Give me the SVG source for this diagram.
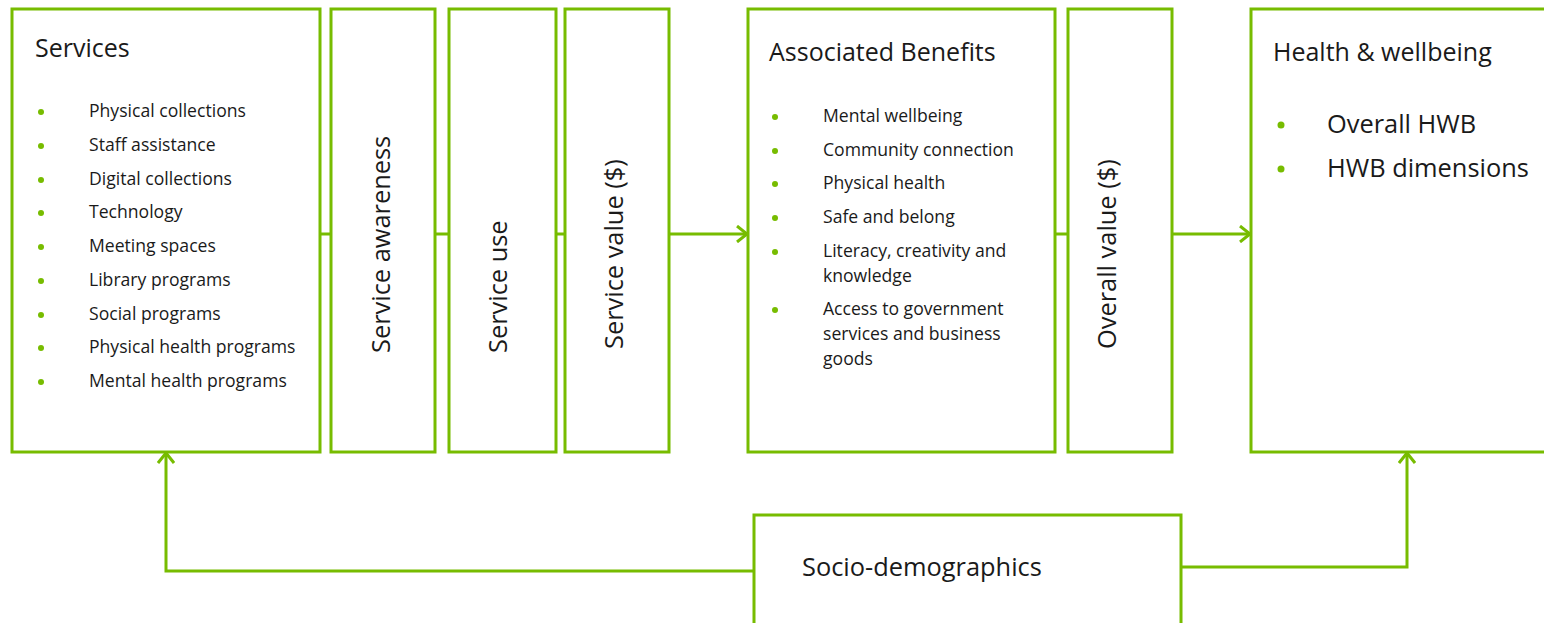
<svg xmlns="http://www.w3.org/2000/svg" width="1544" height="623" viewBox="0 0 1544 623">
<style>
.box{fill:#fff;stroke:#77BC00;stroke-width:3}
.ln{fill:none;stroke:#77BC00;stroke-width:3}
text{font-family:"Open Sans","Noto Sans","Liberation Sans",sans-serif;fill:#1a1a1a}
.t{font-size:25px}
.s{font-size:17.6px}
.m{font-size:25.4px}
.b{fill:#77BC00}
</style>
<defs>
<marker id="arr" markerWidth="14" markerHeight="18" refX="11" refY="9" orient="auto" markerUnits="userSpaceOnUse">
<path d="M1,1 L11,9 L1,17" fill="none" stroke="#77BC00" stroke-width="3"/>
</marker>
</defs>
<g id="connectors">
<line class="ln" x1="320" y1="234" x2="331" y2="234"/>
<line class="ln" x1="435" y1="234" x2="449" y2="234"/>
<line class="ln" x1="556" y1="234" x2="565" y2="234"/>
<line class="ln" x1="669" y1="234" x2="747" y2="234" marker-end="url(#arr)"/>
<line class="ln" x1="1055" y1="234" x2="1068" y2="234"/>
<line class="ln" x1="1172" y1="234" x2="1250" y2="234" marker-end="url(#arr)"/>
<polyline class="ln" points="754,571 166,571 166,453" marker-end="url(#arr)"/>
<polyline class="ln" points="1181,567 1407,567 1407,453" marker-end="url(#arr)"/>
</g>
<g id="services">
<rect class="box" x="12" y="9" width="308" height="443"/>
<text class="t" x="35" y="57">Services</text>
<g class="s">
<circle class="b" cx="41" cy="112" r="3"/><text x="89" y="117">Physical collections</text>
<circle class="b" cx="41" cy="146" r="3"/><text x="89" y="151">Staff assistance</text>
<circle class="b" cx="41" cy="180" r="3"/><text x="89" y="185">Digital collections</text>
<circle class="b" cx="41" cy="213" r="3"/><text x="89" y="218">Technology</text>
<circle class="b" cx="41" cy="247" r="3"/><text x="89" y="252">Meeting spaces</text>
<circle class="b" cx="41" cy="281" r="3"/><text x="89" y="286">Library programs</text>
<circle class="b" cx="41" cy="315" r="3"/><text x="89" y="320">Social programs</text>
<circle class="b" cx="41" cy="348" r="3"/><text x="89" y="353">Physical health programs</text>
<circle class="b" cx="41" cy="382" r="3"/><text x="89" y="387">Mental health programs</text>
</g>
</g>
<g id="awareness">
<rect class="box" x="331" y="9" width="104" height="443"/>
<text class="m" transform="translate(390,353) rotate(-90)">Service awareness</text>
</g>
<g id="use">
<rect class="box" x="449" y="9" width="107" height="443"/>
<text class="m" transform="translate(507,353) rotate(-90)">Service use</text>
</g>
<g id="value">
<rect class="box" x="565" y="9" width="104" height="443"/>
<text class="m" transform="translate(623,349) rotate(-90)">Service value ($)</text>
</g>
<g id="benefits">
<rect class="box" x="748" y="9" width="307" height="443"/>
<text class="t" x="769" y="61">Associated Benefits</text>
<g class="s">
<circle class="b" cx="775" cy="117" r="3"/><text x="823" y="122">Mental wellbeing</text>
<circle class="b" cx="775" cy="151" r="3"/><text x="823" y="156">Community connection</text>
<circle class="b" cx="775" cy="184" r="3"/><text x="823" y="189">Physical health</text>
<circle class="b" cx="775" cy="218" r="3"/><text x="823" y="223">Safe and belong</text>
<circle class="b" cx="775" cy="252" r="3"/><text x="823" y="257">Literacy, creativity and</text>
<text x="823" y="282">knowledge</text>
<circle class="b" cx="775" cy="310" r="3"/><text x="823" y="315">Access to government</text>
<text x="823" y="340">services and business</text>
<text x="823" y="365">goods</text>
</g>
</g>
<g id="overall">
<rect class="box" x="1068" y="9" width="104" height="443"/>
<text class="m" transform="translate(1116,349) rotate(-90)">Overall value ($)</text>
</g>
<g id="hwb">
<rect class="box" x="1251" y="9" width="300" height="443"/>
<text class="t" x="1273" y="61">Health &amp; wellbeing</text>
<circle class="b" cx="1281" cy="125" r="3.5"/><text class="m" x="1327" y="133">Overall HWB</text>
<circle class="b" cx="1281" cy="169" r="3.5"/><text class="m" x="1327" y="177">HWB dimensions</text>
</g>
<g id="socio">
<rect class="box" x="754" y="515" width="427" height="120"/>
<text class="m" x="802" y="576">Socio-demographics</text>
</g>
</svg>
